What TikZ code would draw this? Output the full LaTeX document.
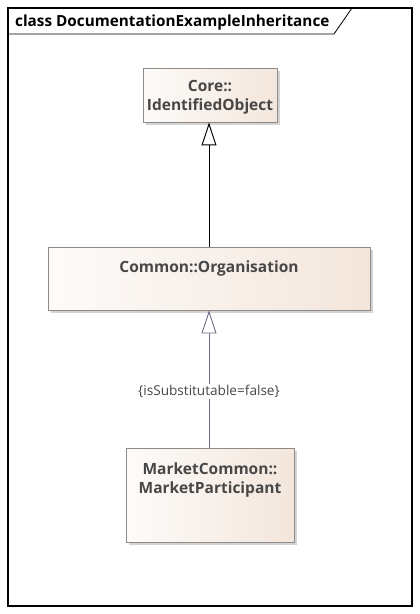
\documentclass[tikz,border=0pt]{standalone}
\usepackage{fontspec}
\setmainfont{Open Sans}
\usetikzlibrary{arrows.meta,shadows}

\definecolor{boxline}{HTML}{8E8A88}
\definecolor{boxleft}{HTML}{FDFBF9}
\definecolor{boxright}{HTML}{F3E6DC}
\definecolor{nametext}{HTML}{474747}
\definecolor{subline}{HTML}{6A6A84}

\begin{document}
\begin{tikzpicture}
	[x=1pt, y=-1pt,
	classbox/.style = {draw=boxline, line width=0.9pt, rectangle, inner sep=0pt,
		left color=boxleft, right color=boxright,
		drop shadow={shadow xshift=2.5pt, shadow yshift=-2.5pt, opacity=0.35}},
	classname/.style = {anchor=north, align=center, text=nametext, inner sep=0pt,
		font=\bfseries\fontsize{15.5}{19}\selectfont},
	inherit/.style = {-{Triangle[length=23pt, width=15pt, fill=white]}, line width=1pt}]
	\useasboundingbox (0,0) rectangle (420,614);
	% frame and title tab
	\draw[line width=1.3pt] (8,8) rectangle (412,606);
	\draw[line width=0.8pt] (8,34) -- (334,34) -- (352,8);
	\node[anchor=base west, inner sep=0pt, font=\bfseries\fontsize{15.3}{18}\selectfont] (title) at (15,26) {class DocumentationExampleInheritance};
	% classes
	\node[classbox, minimum width=134pt, minimum height=54pt] (core) at (210,95) {};
	\node[classname] (corename) at ([yshift=-13pt]core.north) {Core::\\IdentifiedObject};
	\node[classbox, minimum width=322pt, minimum height=63pt] (org) at (209,278.5) {};
	\node[classname] (orgname) at ([yshift=-14pt]org.north) {Common::Organisation};
	\node[classbox, minimum width=168pt, minimum height=94pt] (mp) at (210,495) {};
	\node[classname] (mpname) at ([yshift=-15pt]mp.north) {MarketCommon::\\MarketParticipant};
	% generalisations
	\draw[inherit] (org.north -| 209,0) -- (core.south -| 209,0);
	\draw[inherit, line width=0.9pt, draw=subline] (mp.north -| 209,0) -- node[pos=0.41, fill=white, inner sep=1pt, text=nametext, font=\fontsize{13.6}{16}\selectfont] {\{isSubstitutable=false\}} (org.south -| 209,0);
\end{tikzpicture}
\end{document}
